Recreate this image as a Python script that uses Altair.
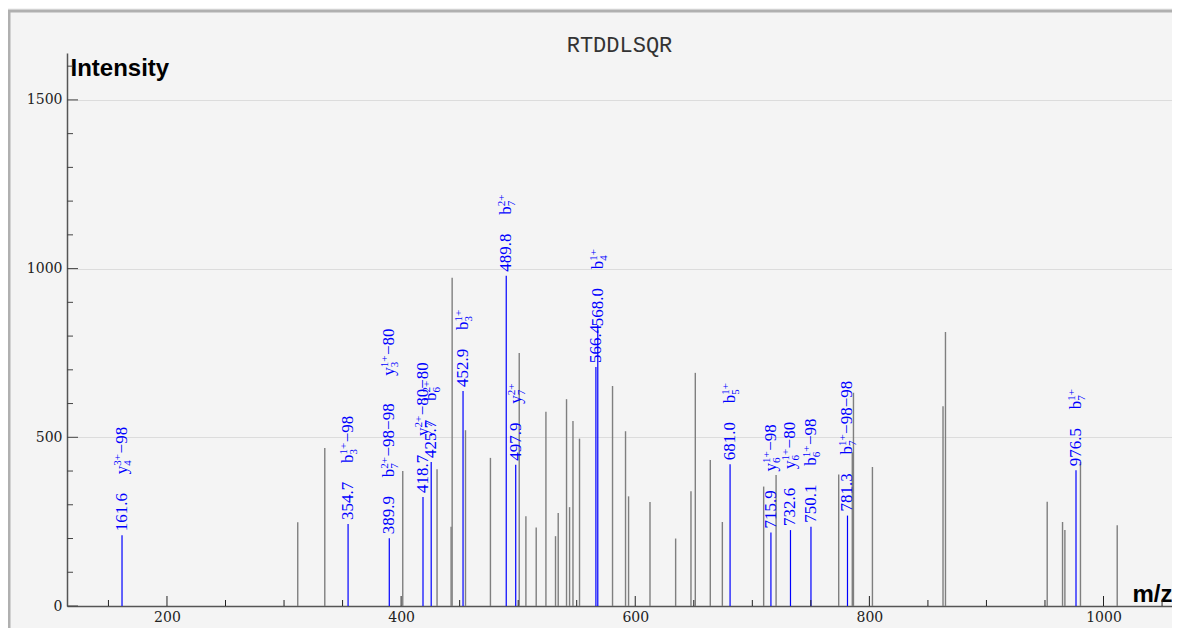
import altair as alt
import pandas as pd

# ---------------- data ----------------
title_text = "RTDDLSQR"

# unannotated (grey) peaks
gray_mz = [311.7, 334.8, 401.4, 430.7, 442.7, 443.6, 455.0, 476.3, 500.9, 506.6,
           515.4, 523.7, 531.9, 534.2, 541.3, 543.9, 546.8, 552.4, 580.6, 591.7,
           594.3, 612.6, 634.5, 647.6, 651.3, 664.1, 674.4, 709.7, 720.3, 773.8,
           785.4, 786.4, 802.6, 862.9, 865.0, 951.9, 965.0, 967.0, 980.3, 1011.7]
gray_int = [248, 468, 400, 405, 235, 973, 521, 439, 750, 266,
            233, 576, 207, 276, 613, 293, 548, 496, 652, 518,
            325, 308, 200, 340, 691, 433, 249, 354, 388, 390,
            456, 632, 412, 592, 812, 309, 249, 225, 427, 239]

# annotated (blue) peaks
ann_mz = [161.6, 354.7, 389.9, 418.7, 425.7, 452.9, 489.8, 497.9, 566.4, 568.0,
          681.0, 715.9, 732.6, 750.1, 781.3, 976.5]
ann_int = [210, 243, 201, 323, 427, 637, 979, 419, 708, 817,
           420, 218, 225, 235, 268, 402]

# ion labels: index of annotated peak, ion letter, subscript, superscript, neutral loss
ion_peak = [0, 1, 2, 2, 3, 4, 5, 6, 7, 9, 10, 11, 12, 13, 14, 15]
ion_letter = ["y", "b", "b", "y", "y", "b", "b", "b", "y", "b", "b", "y", "y", "b", "b", "b"]
ion_sub = ["4", "3", "7", "3", "7", "6", "3", "7", "7", "4", "5", "6", "6", "6", "7", "7"]
ion_sup = ["3+", "1+", "2+", "1+", "2+", "2+", "1+", "2+", "2+", "1+", "1+", "1+", "1+", "1+", "1+", "1+"]
ion_loss = ["−98", "−98", "−98−98", "−80", "−80−80", "", "", "", "", "", "", "−98", "−80", "−98", "−98−98", ""]

y_label_values = [0, 500, 1000, 1500]
x_label_values = [200, 400, 600, 800, 1000]
y_tick_values = list(range(0, 1700, 100))
x_tick_values = list(range(150, 1100, 50))

# ---------------- layout helpers ----------------
W, H = 1105, 553
BLUE = "#0000ff"
ANN_FONT = "Liberation Serif"
AX_FONT = "DejaVu Serif"
FS, FS_SMALL = 17, 11

big_w = {"−": 9.6, ".": 4.25}
small_w = {"+": 6.2}


def wbig(s):
    return sum(big_w.get(c, 8.5) for c in s)


def wsmall(s):
    return sum(small_w.get(c, 5.5) for c in s)


gray_df = pd.DataFrame({"mz": gray_mz, "intensity": gray_int})
ann_df = pd.DataFrame({"mz": ann_mz, "intensity": ann_int})
ann_df["label"] = [f"{m:.1f}" for m in ann_mz]

rows = []
next_off = {}
for p, let, sub, sup, loss in zip(ion_peak, ion_letter, ion_sub, ion_sup, ion_loss):
    off = next_off.get(p, 61.0)
    m, inten = ann_mz[p], ann_int[p]
    w_script = max(wsmall(sub), wsmall(sup))
    rows.append(dict(mz=m, intensity=inten, part="letter", text=let, o=round(off, 1)))
    rows.append(dict(mz=m, intensity=inten, part="sup", text=sup, o=round(off + 8.5, 1)))
    rows.append(dict(mz=m, intensity=inten, part="sub", text=sub, o=round(off + 8.5, 1)))
    if loss:
        rows.append(dict(mz=m, intensity=inten, part="loss", text=loss,
                         o=round(off + 8.5 + w_script + 0.5, 1)))
    next_off[p] = off + 8.5 + w_script + wbig(loss) + 28
ion_df = pd.DataFrame(rows)

x_scale = alt.Scale(domain=[114.6, 1058.5], nice=False, zero=False)
y_scale = alt.Scale(domain=[0, 1639], nice=False)

x_axis = alt.Axis(values=x_label_values, format="d", ticks=False, grid=False,
                  labelFont=AX_FONT, labelFontSize=14, labelColor="#222", labelPadding=4,
                  domainColor="#555", domainWidth=1.5, title="m/z",
                  titleFont="Liberation Sans", titleFontSize=24, titleFontWeight="bold",
                  titleColor="#000", titleX=W, titleY=-5, titleAlign="right",
                  titleBaseline="alphabetic")
y_axis = alt.Axis(values=y_label_values, format="d", ticks=False, grid=True,
                  gridColor="#dcdcdc", gridWidth=1, labelFont=AX_FONT, labelFontSize=14,
                  labelColor="#222", labelPadding=5, domainColor="#555", domainWidth=1.5,
                  title="Intensity", titleFont="Liberation Sans", titleFontSize=24,
                  titleFontWeight="bold", titleColor="#000", titleAngle=0, titleX=3,
                  titleY=22, titleAlign="left", titleBaseline="alphabetic")


def X(f="mz"):
    return alt.X(f"{f}:Q", scale=x_scale, axis=x_axis)


def Y(f="intensity"):
    return alt.Y(f"{f}:Q", scale=y_scale, axis=y_axis)


base_gray = alt.Chart(gray_df).mark_rule(color="#7f7f7f", strokeWidth=1.4).encode(
    x=X(), y=Y(), y2=alt.datum(0))

base_blue = alt.Chart(ann_df).mark_rule(color=BLUE, strokeWidth=1.2).encode(
    x=X(), y=Y(), y2=alt.datum(0))

num_text = alt.Chart(ann_df).mark_text(
    angle=270, align="left", baseline="middle", font=ANN_FONT, fontSize=FS,
    color=BLUE, dx=4).encode(x=X(), y=Y(), text="label:N")

ion_layers = []
part_style = {"letter": (FS, 0), "sup": (FS_SMALL, -4), "sub": (FS_SMALL, 6), "loss": (FS, 0)}
for (part, o), _ in ion_df.groupby(["part", "o"]):
    size, dy = part_style[part]
    ion_layers.append(
        alt.Chart(ion_df).transform_filter(
            (alt.datum.part == part) & (alt.datum.o == o)
        ).mark_text(angle=270, align="left", baseline="middle", font=ANN_FONT,
                    fontSize=size, color=BLUE, dx=float(o), dy=dy
                    ).encode(x=X(), y=Y(), text="text:N")
    )

# axis ticks (pointing into the plot)
yt = pd.DataFrame({"v": y_tick_values})
yt["major"] = yt["v"] % 500 == 0
xt = pd.DataFrame({"v": x_tick_values})
xt["major"] = xt["v"] % 200 == 0

y_minor = alt.Chart(yt).transform_filter("!datum.major").mark_rule(
    color="#444", strokeWidth=1).encode(y=Y("v"), x=alt.value(0), x2=alt.value(6))
y_major = alt.Chart(yt).transform_filter("datum.major").mark_rule(
    color="#444", strokeWidth=1).encode(y=Y("v"), x=alt.value(0), x2=alt.value(11))
x_minor = alt.Chart(xt).transform_filter("!datum.major").mark_rule(
    color="#222", strokeWidth=1).encode(x=X("v"), y=alt.value(H), y2=alt.value(H - 6))
x_major = alt.Chart(xt).transform_filter("datum.major").mark_rule(
    color="#222", strokeWidth=1).encode(x=X("v"), y=alt.value(H), y2=alt.value(H - 10))

# panel frame (top and left edges) and the sequence title
one = alt.Chart(alt.Data(values=[{"t": title_text}]))
frame_top = one.mark_rule(color="#b0b0b0", strokeWidth=3).encode(
    x=alt.value(-60), x2=alt.value(W + 10), y=alt.value(-42))
frame_left = one.mark_rule(color="#b0b0b0", strokeWidth=3).encode(
    x=alt.value(-58), y=alt.value(-43), y2=alt.value(H + 30))
title_mark = one.mark_text(font="Liberation Mono", fontSize=22, color="#333",
                           align="center", baseline="alphabetic").encode(
    x=alt.value(W / 2), y=alt.value(-1), text="t:N")

chart = alt.layer(
    base_gray, base_blue, y_minor, y_major, x_minor, x_major,
    num_text, *ion_layers, frame_top, frame_left, title_mark
).properties(
    width=W, height=H,
    padding={"left": 59, "top": 45, "right": 0, "bottom": 22},
    autosize="none",
    background="#f4f4f4",
).configure_view(stroke=None)

chart.save("out.html", embed_options={"renderer": "svg", "actions": False})
